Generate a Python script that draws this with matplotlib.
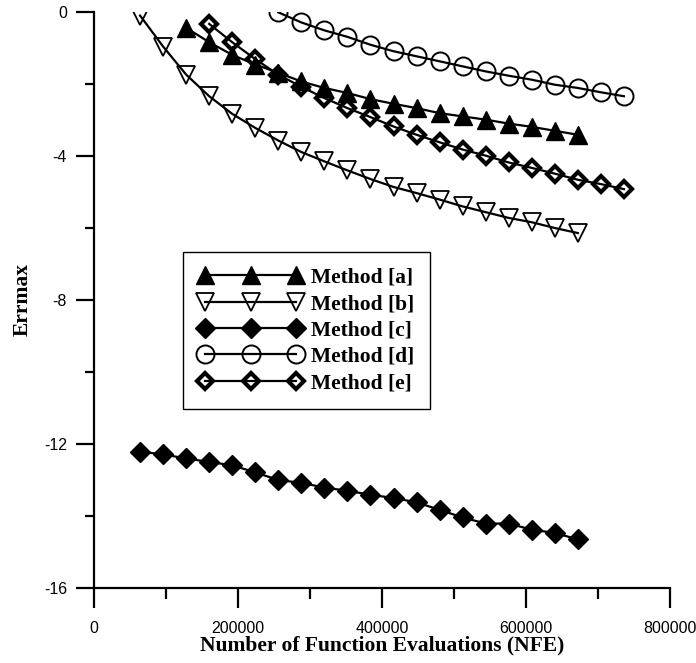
import matplotlib
matplotlib.use('Agg')
import matplotlib.pyplot as plt

# NFE grid used by all methods (step 32000)
nfe_a = [128000, 160000, 192000, 224000, 256000, 288000, 320000, 352000, 384000,
         416000, 448000, 480000, 512000, 544000, 576000, 608000, 640000, 672000]
err_a = [-0.44, -0.84, -1.19, -1.46, -1.69, -1.93, -2.11, -2.25, -2.42,
         -2.55, -2.67, -2.81, -2.90, -2.99, -3.10, -3.19, -3.30, -3.41]

nfe_b = [64000, 96000, 128000, 160000, 192000, 224000, 256000, 288000, 320000, 352000,
         384000, 416000, 448000, 480000, 512000, 544000, 576000, 608000, 640000, 672000]
err_b = [-0.10, -0.96, -1.74, -2.34, -2.83, -3.22, -3.57, -3.89, -4.15, -4.40,
         -4.64, -4.86, -5.03, -5.21, -5.40, -5.56, -5.72, -5.84, -6.00, -6.14]

nfe_c = nfe_b
err_c = [-12.21, -12.29, -12.40, -12.50, -12.59, -12.79, -13.00, -13.08, -13.21, -13.30,
         -13.41, -13.50, -13.62, -13.83, -14.04, -14.21, -14.21, -14.38, -14.47, -14.65]

nfe_d = [256000, 288000, 320000, 352000, 384000, 416000, 448000, 480000,
         512000, 544000, 576000, 608000, 640000, 672000, 704000, 736000]
err_d = [-0.01, -0.29, -0.51, -0.69, -0.91, -1.09, -1.23, -1.37,
         -1.51, -1.65, -1.77, -1.88, -2.02, -2.11, -2.23, -2.34]

nfe_e = [160000, 192000, 224000, 256000, 288000, 320000, 352000, 384000, 416000, 448000,
         480000, 512000, 544000, 576000, 608000, 640000, 672000, 704000, 736000]
err_e = [-0.33, -0.84, -1.31, -1.74, -2.08, -2.39, -2.67, -2.92, -3.18, -3.41,
         -3.62, -3.82, -3.99, -4.18, -4.33, -4.49, -4.66, -4.78, -4.92]

labels = ['Method [a]', 'Method [b]', 'Method [c]', 'Method [d]', 'Method [e]']

fig = plt.figure(figsize=(6.96, 6.63), dpi=100)
ax = fig.add_axes([94 / 696, 1 - 588 / 663, 576 / 696, 576 / 663])

lw = 1.6
ax.plot(nfe_a, err_a, 'k-', lw=lw, marker='^', ms=13, mfc='k', mec='k', label=labels[0])
ax.plot(nfe_b, err_b, 'k-', lw=lw, marker='v', ms=13, mfc='none', mec='k', mew=1.3, label=labels[1])
ax.plot(nfe_c, err_c, 'k-', lw=lw, marker='D', ms=10, mfc='k', mec='k', label=labels[2])
ax.plot(nfe_d, err_d, 'k-', lw=lw, marker='o', ms=13, mfc='none', mec='k', mew=1.4, label=labels[3])
ax.plot(nfe_e, err_e, 'k-', lw=lw, marker='D', ms=8, mfc='none', mec='k', mew=3.0, label=labels[4])

ax.set_xlim(0, 800000)
ax.set_ylim(-16, 0)
ax.set_xticks([0, 200000, 400000, 600000, 800000])
ax.set_xticks([100000, 300000, 500000, 700000], minor=True)
ax.set_yticks([0, -4, -8, -12, -16])
ax.set_yticks([-2, -6, -10, -14], minor=True)
ax.set_xticklabels(['0', '200000', '400000', '600000', '800000'])
ax.set_yticklabels(['0', '-4', '-8', '-12', '-16'])

for side in ('top', 'right'):
    ax.spines[side].set_visible(False)
for side in ('left', 'bottom'):
    ax.spines[side].set_linewidth(1.6)
ax.tick_params(which='both', width=1.6, direction='out',
               labelsize=11.5, labelfontfamily='Liberation Sans')
ax.tick_params(axis='x', which='major', length=14.5, pad=9)
ax.tick_params(axis='x', which='minor', length=8)
ax.tick_params(axis='y', which='major', length=13, pad=6.5)
ax.tick_params(axis='y', which='minor', length=6.5)

serif = {'family': 'Liberation Serif', 'weight': 'bold'}
ax.set_xlabel('Number of Function Evaluations (NFE)', fontdict=serif, fontsize=15.5, labelpad=0)
ax.set_ylabel('Errmax', fontdict=serif, fontsize=15.5, labelpad=8)

leg = ax.legend(loc='upper left', bbox_to_anchor=(182.7 / 696, 1 - 251.7 / 663),
                bbox_transform=fig.transFigure, borderaxespad=0, numpoints=3,
                handlelength=4.8, handletextpad=0.4, labelspacing=0.29, borderpad=0.75,
                fancybox=False, framealpha=1, edgecolor='k',
                prop={'family': 'Liberation Serif', 'weight': 'bold', 'size': 15.5})
leg.get_frame().set_linewidth(1.0)

plt.savefig('out.png')
